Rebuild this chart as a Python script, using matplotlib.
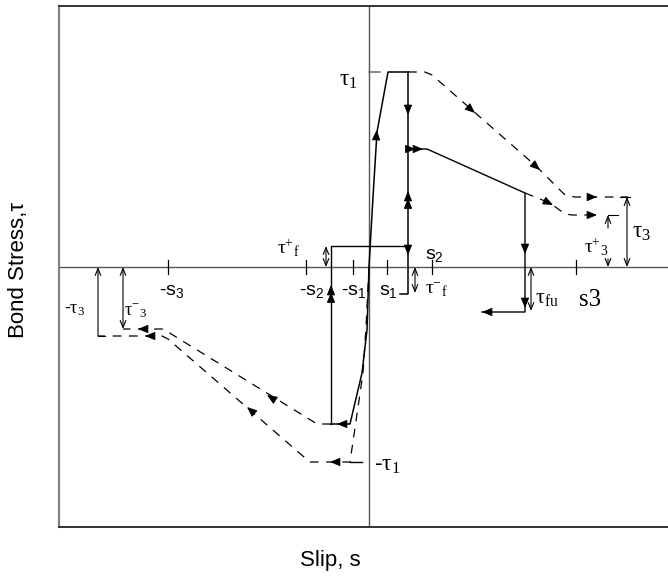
import numpy as np
import matplotlib
matplotlib.use('Agg')
import matplotlib.pyplot as plt

plt.rcParams['font.family'] = ['Liberation Sans', 'DejaVu Sans']
plt.rcParams['mathtext.fontset'] = 'custom'
plt.rcParams['mathtext.rm'] = 'Liberation Serif'
plt.rcParams['mathtext.sf'] = 'Liberation Sans'
plt.rcParams['mathtext.it'] = 'Liberation Serif:italic'

# --- model points (slip s, bond stress tau), arbitrary units ---
# monotonic loading branch up to tau1 and the plateau to s2
load_s = [0.0, 0.4, 0.8, 1.9, 3.9]
load_t = [0.0, 7.0, 13.5, 19.5, 19.5]
# positive envelope after s2 (dashed) down to tau3
env_pos_s = [3.9, 5.6, 6.3, 10.3, 16.8, 19.6, 20.6, 25.9]
env_pos_t = [19.5, 19.5, 19.2, 15.7, 10.0, 7.2, 7.0, 7.0]
# unloading from tau1 plateau
unload_s = [3.9, 3.9, 3.1]
unload_t = [19.5, -2.7, -2.7]
# frictional branch +tau_f, then reversed loading to -s2
fric_s = [3.9, -3.8, -3.8]
fric_t = [2.1, 2.1, -15.7]
# negative loading branch (cyclic)
neg_load_s = [0.0, -0.2, -0.7, -1.9, -3.8]
neg_load_t = [0.0, -6.3, -10.6, -15.7, -15.7]
# negative reduced envelope (dashed) to tau-3
neg_cyc_s = [-3.8, -5.2, -6.0, -20.1, -20.6, -24.6]
neg_cyc_t = [-15.7, -15.7, -15.2, -6.5, -6.2, -6.2]
# negative monotonic envelope (dashed) to -tau3
env_neg_s = [0.0, -0.3, -0.6, -1.9, -5.9, -6.5, -20.1, -20.7, -27.1]
env_neg_t = [0.0, -6.0, -10.6, -19.5, -19.5, -19.0, -7.2, -6.9, -6.9]
# positive reloading (cyclic) branch and drop to tau_fu
cyc_s = [3.9, 5.8, 15.6, 15.6, 11.3]
cyc_t = [11.8, 11.8, 7.4, -4.5, -4.5]
cyc_dash_s = [15.6, 18.1, 19.6, 20.3, 23.0]
cyc_dash_t = [7.4, 6.4, 5.3, 5.2, 5.2]

# characteristic values
tau1 = 19.5
tau3 = 7.0
tau3_pos = 5.2
tau3_neg = -6.2
tau_f_pos = 2.1
tau_f_neg = -2.6
tau_fu = -4.4
slip_ticks = [-20.1, -6.3, -1.6, 1.8, 6.3, 20.7]

fig = plt.figure(figsize=(6.68, 5.81), dpi=100)
ax = fig.add_axes([59/668, 54/581, 609/668, 521/581])
ax.set_xlim(-31.0, 29.9)
ax.set_ylim(-26.0, 26.1)
ax.set_xticks([])
ax.set_yticks([])
ax.spines['right'].set_visible(False)
ax.spines['left'].set_color('#808080')
ax.spines['left'].set_linewidth(1.6)
ax.spines['top'].set_color('#333333')
ax.spines['top'].set_linewidth(1.4)
ax.spines['bottom'].set_color('#333333')
ax.spines['bottom'].set_linewidth(1.4)

# coordinate axes
ax.axhline(0, color='#555555', lw=1.0)
ax.axvline(0, color='#555555', lw=1.0)
for s in slip_ticks:
    ax.plot([s, s], [-0.7, 0.7], color='black', lw=0.9)

dash = (0, (7, 6))
ax.plot(load_s, load_t, color='black', lw=1.1)
ax.plot(env_pos_s, env_pos_t, color='black', lw=0.9, ls=dash)
ax.plot(unload_s, unload_t, color='black', lw=1.1)
ax.plot(fric_s, fric_t, color='black', lw=1.0)
ax.plot(neg_load_s, neg_load_t, color='black', lw=1.1)
ax.plot(neg_cyc_s, neg_cyc_t, color='black', lw=0.9, ls=dash)
ax.plot(env_neg_s, env_neg_t, color='black', lw=0.9, ls=dash)
ax.plot(cyc_s, cyc_t, color='black', lw=1.0)
ax.plot(cyc_dash_s, cyc_dash_t, color='black', lw=0.9, ls=dash)

# short marks at +/- tau1 on the stress axis
ax.plot([0, 1.1], [tau1, tau1], color='#777777', lw=1.2)
ax.plot([-1.9, -0.7], [-tau1, -tau1], color='black', lw=1.0)


def head(x, y, dx, dy, n=1):
    L = np.hypot(dx, dy)
    ux, uy = dx / L, dy / L
    for k in range(n):
        tx, ty = x - k * 0.75 * ux, y - k * 0.75 * uy
        ax.annotate('', xy=(tx, ty), xytext=(tx - ux * 0.8, ty - uy * 0.8),
                    arrowprops=dict(arrowstyle='-|>,head_length=0.6,head_width=0.25',
                                    color='black', lw=0.8, shrinkA=0, shrinkB=0,
                                    mutation_scale=10))


# direction arrows along the paths
head(0.77, 13.7, 0.8, 13.5)
head(3.9, 15.2, 0, -1)
head(3.9, 7.6, 0, 1, n=2)
head(3.9, 1.2, 0, -1)
head(5.4, 11.8, 1, 0, n=2)
head(15.6, 1.3, 0, -1)
head(15.6, -4.1, 0, -1)
head(11.3, -4.5, -1, 0)
head(10.6, 15.4, 1, -0.87)
head(17.1, 9.7, 1, -0.87)
head(18.4, 6.2, 1, -0.5)
head(22.8, 7.0, 1, 0)
head(22.8, 5.2, 1, 0)
head(-3.8, -1.8, 0, 1, n=2)
head(-3.2, -15.7, -1, 0)
head(-3.9, -19.5, -1, 0)
head(-10.2, -12.8, -1, 0.63)
head(-12.2, -14.0, -1, 0.87)
head(-23.1, -6.2, -1, 0)
head(-22.4, -6.9, -1, 0)


def dim(x, y0, y1, style='<->'):
    ax.annotate('', xy=(x, y1), xytext=(x, y0),
                arrowprops=dict(arrowstyle=style + ',head_length=0.5,head_width=0.2',
                                color='black', lw=0.8, shrinkA=0, shrinkB=0,
                                mutation_scale=10))


# dimension marks for the characteristic stresses
dim(-4.3, 0, tau_f_pos)
dim(4.6, 0, tau_f_neg)
dim(16.2, 0, tau_fu)
dim(25.8, 0, tau3)
ax.plot([25.1, 26.1], [tau3, tau3], color='black', lw=0.8)
dim(23.9, 3.9, tau3_pos, style='->')
ax.plot([23.9, 24.9], [tau3_pos, tau3_pos], color='black', lw=0.8)
dim(23.9, 0.8, 0, style='->')
dim(-27.1, -6.9, 0, style='->')
ax.plot([-27.1, -26.4], [-6.9, -6.9], color='black', lw=0.8)
dim(-24.6, 0, tau3_neg)

fs = 17
ax.text(-2.1, 18.7, r'$\mathrm{τ_1}$', fontsize=fs, ha='center', va='center')
ax.text(0.5, -19.8, r'-$\mathrm{τ_1}$', fontsize=fs, ha='left', va='center')
ax.text(-8.1, 1.9, r'$\mathrm{τ^{+}{}_{f}}$', fontsize=14, ha='center', va='center')
ax.text(6.7, -2.3, r'$\mathrm{τ^{-}{}_{f}}$', fontsize=14, ha='center', va='center')
ax.text(17.8, -3.1, r'$\mathrm{τ_{fu}}$', fontsize=16, ha='center', va='center')
ax.text(22.7, 2.0, r'$\mathrm{τ^{+}{}_{3}}$', fontsize=14, ha='center', va='center')
ax.text(27.3, 3.5, r'$\mathrm{τ_3}$', fontsize=fs, ha='center', va='center')
ax.text(-29.4, -4.3, r'-$\mathrm{τ_3}$', fontsize=13, ha='center', va='center')
ax.text(-23.4, -4.5, r'$\mathrm{τ^{-}{}_{3}}$', fontsize=13, ha='center', va='center')

sfs = 14
ax.text(-5.7, -2.5, r'-$\mathsf{s_2}$', fontsize=sfs, ha='center', va='center')
ax.text(-1.5, -2.5, r'-$\mathsf{s_1}$', fontsize=sfs, ha='center', va='center')
ax.text(1.9, -2.5, r'$\mathsf{s_1}$', fontsize=sfs, ha='center', va='center')
ax.text(6.5, 1.2, r'$\mathsf{s_2}$', fontsize=sfs, ha='center', va='center')
ax.text(-19.7, -2.5, r'-$\mathsf{s_3}$', fontsize=sfs, ha='center', va='center')
ax.text(22.1, -3.3, 's3', fontsize=18, ha='center', va='center',
        family='Liberation Serif')

fig.text(0.027, 0.535, 'Bond Stress,τ', rotation=90, fontsize=16,
         ha='center', va='center')
fig.text(0.494, 0.036, 'Slip, s', fontsize=16, ha='center', va='center')

plt.savefig('out.png', dpi=100)
